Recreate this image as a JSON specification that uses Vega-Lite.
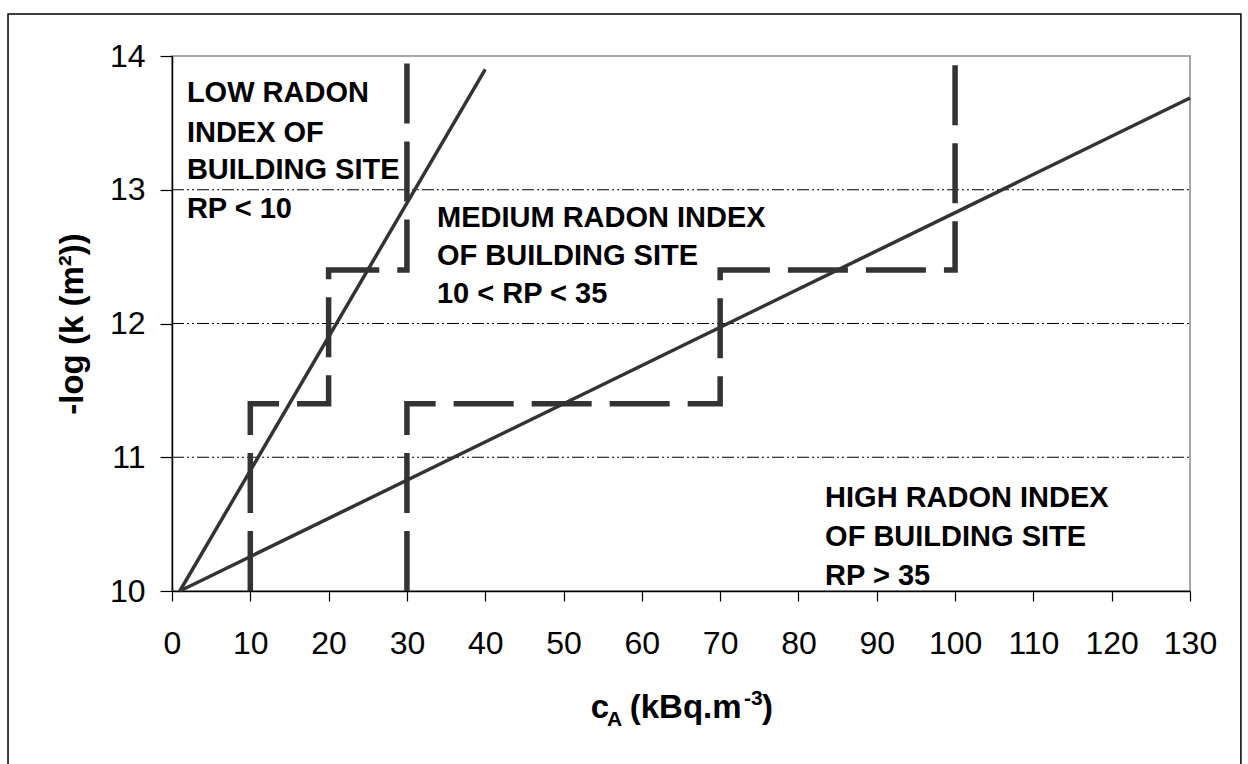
{
  "$schema": "https://vega.github.io/schema/vega-lite/v6.json",
  "width": 1018,
  "height": 535,
  "autosize": {"type": "none"},
  "padding": {"left": 172, "top": 56, "right": 58, "bottom": 173},
  "background": "white",
  "config": {
    "view": {"stroke": "#8a8a8a", "strokeWidth": 1.5},
    "font": "Liberation Sans",
    "axis": {
      "grid": false, "domainColor": "black", "domainWidth": 1.5,
      "tickColor": "black", "tickWidth": 1.2,
      "labelFontSize": 32, "labelColor": "black", "labelFont": "Liberation Sans",
      "labelFlush": false, "labelOverlap": false,
      "titleFontSize": 33, "titleFont": "Liberation Sans", "titleFontWeight": "bold", "titleColor": "black"
    },
    "axisX": {"tickSize": 10, "labelPadding": 27},
    "axisY": {"tickSize": 12, "labelPadding": 15, "titlePadding": 20}
  },
  "datasets": {
    "lines": [
      {"series": "steep", "i": 0, "x": 1, "y": 10},
      {"series": "steep", "i": 1, "x": 40, "y": 13.9},
      {"series": "shallow", "i": 0, "x": 1, "y": 10},
      {"series": "shallow", "i": 1, "x": 130, "y": 13.686}
    ],
    "steps": [
      {"path": "a", "i": 0, "x": 10, "y": 10},
      {"path": "a", "i": 1, "x": 10, "y": 11.4},
      {"path": "a", "i": 2, "x": 20, "y": 11.4},
      {"path": "a", "i": 3, "x": 20, "y": 12.4},
      {"path": "a", "i": 4, "x": 30, "y": 12.4},
      {"path": "a", "i": 5, "x": 30, "y": 14},
      {"path": "b", "i": 0, "x": 30, "y": 10},
      {"path": "b", "i": 1, "x": 30, "y": 11.4},
      {"path": "b", "i": 2, "x": 70, "y": 11.4},
      {"path": "b", "i": 3, "x": 70, "y": 12.4},
      {"path": "b", "i": 4, "x": 100, "y": 12.4},
      {"path": "b", "i": 5, "x": 100, "y": 14}
    ],
    "grid": [{"y": 11}, {"y": 12}, {"y": 13}],
    "notes": [
      {"text": "LOW RADON", "x": 1.9, "y": 13.658},
      {"text": "INDEX OF", "x": 1.9, "y": 13.359},
      {"text": "BUILDING SITE", "x": 1.9, "y": 13.08},
      {"text": "RP < 10", "x": 1.9, "y": 12.79},
      {"text": "MEDIUM RADON INDEX", "x": 33.84, "y": 12.72},
      {"text": "OF BUILDING SITE", "x": 33.84, "y": 12.44},
      {"text": "10 < RP < 35", "x": 33.84, "y": 12.15},
      {"text": "HIGH RADON INDEX", "x": 83.4, "y": 10.63},
      {"text": "OF BUILDING SITE", "x": 83.4, "y": 10.34},
      {"text": "RP > 35", "x": 83.4, "y": 10.045}
    ]
  },
  "layer": [
    {
      "data": {"values": [{}]},
      "mark": {"type": "rect", "fill": null, "fillOpacity": 0, "stroke": "black", "strokeWidth": 1.5, "clip": false},
      "encoding": {
        "x": {"datum": -20.94, "type": "quantitative", "scale": {"domain": [0, 130], "nice": false, "zero": false}, "axis": {"title": null, "values": [0,10,20,30,40,50,60,70,80,90,100,110,120,130]}},
        "x2": {"datum": 136.5},
        "y": {"datum": 14.314, "type": "quantitative", "scale": {"domain": [10, 14], "nice": false, "zero": false}, "axis": {"title": "-log (k (m²))", "values": [10, 11, 12, 13, 14]}},
        "y2": {"datum": 8.6}
      }
    },
    {
      "data": {"name": "grid"},
      "mark": {"type": "rule", "color": "black", "strokeWidth": 1, "strokeDash": [12, 3, 2, 3, 2, 3]},
      "encoding": {
        "x": {"datum": 0, "type": "quantitative", "scale": {"domain": [0, 130], "nice": false, "zero": false}, "axis": {"title": null, "values": [0,10,20,30,40,50,60,70,80,90,100,110,120,130]}},
        "x2": {"datum": 130},
        "y": {"field": "y", "type": "quantitative", "scale": {"domain": [10, 14], "nice": false, "zero": false}, "axis": {"title": "-log (k (m²))", "values": [10, 11, 12, 13, 14]}}
      }
    },
    {
      "data": {"name": "steps"},
      "mark": {"type": "line", "color": "#333333", "strokeWidth": 5.5, "strokeDash": [60, 18], "strokeCap": "butt", "strokeJoin": "miter"},
      "encoding": {
        "x": {"field": "x", "type": "quantitative", "scale": {"domain": [0, 130], "nice": false, "zero": false}, "axis": {"title": null, "values": [0,10,20,30,40,50,60,70,80,90,100,110,120,130]}},
        "y": {"field": "y", "type": "quantitative", "scale": {"domain": [10, 14], "nice": false, "zero": false}, "axis": {"title": "-log (k (m²))", "values": [10, 11, 12, 13, 14]}},
        "detail": {"field": "path"},
        "order": {"field": "i"}
      }
    },
    {
      "data": {"name": "lines"},
      "mark": {"type": "line", "color": "#333333", "strokeWidth": 3.5},
      "encoding": {
        "x": {"field": "x", "type": "quantitative", "scale": {"domain": [0, 130], "nice": false, "zero": false}, "axis": {"title": null, "values": [0,10,20,30,40,50,60,70,80,90,100,110,120,130]}},
        "y": {"field": "y", "type": "quantitative", "scale": {"domain": [10, 14], "nice": false, "zero": false}, "axis": {"title": "-log (k (m²))", "values": [10, 11, 12, 13, 14]}},
        "detail": {"field": "series"},
        "order": {"field": "i"}
      }
    },
    {
      "data": {"name": "notes"},
      "mark": {"type": "text", "align": "left", "baseline": "alphabetic", "fontSize": 29, "fontWeight": "bold", "font": "Liberation Sans", "color": "black"},
      "encoding": {
        "x": {"field": "x", "type": "quantitative", "scale": {"domain": [0, 130], "nice": false, "zero": false}, "axis": {"title": null, "values": [0,10,20,30,40,50,60,70,80,90,100,110,120,130]}},
        "y": {"field": "y", "type": "quantitative", "scale": {"domain": [10, 14], "nice": false, "zero": false}, "axis": {"title": "-log (k (m²))", "values": [10, 11, 12, 13, 14]}},
        "text": {"field": "text"}
      }
    },
    {
      "data": {"values": [{}]},
      "mark": {"type": "text", "text": "c", "align": "left", "baseline": "alphabetic", "fontSize": 33, "fontWeight": "bold", "font": "Liberation Sans", "color": "black", "clip": false},
      "encoding": {
        "x": {"datum": 53.47, "type": "quantitative", "scale": {"domain": [0, 130], "nice": false, "zero": false}, "axis": {"title": null, "values": [0,10,20,30,40,50,60,70,80,90,100,110,120,130]}},
        "y": {"datum": 9.0505, "type": "quantitative", "scale": {"domain": [10, 14], "nice": false, "zero": false}, "axis": {"title": "-log (k (m²))", "values": [10, 11, 12, 13, 14]}}
      }
    },
    {
      "data": {"values": [{}]},
      "mark": {"type": "text", "text": "A", "align": "left", "baseline": "alphabetic", "fontSize": 21, "fontWeight": "bold", "font": "Liberation Sans", "color": "black", "clip": false},
      "encoding": {
        "x": {"datum": 55.55, "type": "quantitative", "scale": {"domain": [0, 130], "nice": false, "zero": false}, "axis": {"title": null, "values": [0,10,20,30,40,50,60,70,80,90,100,110,120,130]}},
        "y": {"datum": 8.9907, "type": "quantitative", "scale": {"domain": [10, 14], "nice": false, "zero": false}, "axis": {"title": "-log (k (m²))", "values": [10, 11, 12, 13, 14]}}
      }
    },
    {
      "data": {"values": [{}]},
      "mark": {"type": "text", "text": "(kBq.m", "align": "left", "baseline": "alphabetic", "fontSize": 33, "fontWeight": "bold", "font": "Liberation Sans", "color": "black", "clip": false},
      "encoding": {
        "x": {"datum": 58.45, "type": "quantitative", "scale": {"domain": [0, 130], "nice": false, "zero": false}, "axis": {"title": null, "values": [0,10,20,30,40,50,60,70,80,90,100,110,120,130]}},
        "y": {"datum": 9.0505, "type": "quantitative", "scale": {"domain": [10, 14], "nice": false, "zero": false}, "axis": {"title": "-log (k (m²))", "values": [10, 11, 12, 13, 14]}}
      }
    },
    {
      "data": {"values": [{}]},
      "mark": {"type": "text", "text": "-3", "align": "left", "baseline": "alphabetic", "fontSize": 21, "fontWeight": "bold", "font": "Liberation Sans", "color": "black", "clip": false},
      "encoding": {
        "x": {"datum": 73.04, "type": "quantitative", "scale": {"domain": [0, 130], "nice": false, "zero": false}, "axis": {"title": null, "values": [0,10,20,30,40,50,60,70,80,90,100,110,120,130]}},
        "y": {"datum": 9.1477, "type": "quantitative", "scale": {"domain": [10, 14], "nice": false, "zero": false}, "axis": {"title": "-log (k (m²))", "values": [10, 11, 12, 13, 14]}}
      }
    },
    {
      "data": {"values": [{}]},
      "mark": {"type": "text", "text": ")", "align": "left", "baseline": "alphabetic", "fontSize": 33, "fontWeight": "bold", "font": "Liberation Sans", "color": "black", "clip": false},
      "encoding": {
        "x": {"datum": 75.34, "type": "quantitative", "scale": {"domain": [0, 130], "nice": false, "zero": false}, "axis": {"title": null, "values": [0,10,20,30,40,50,60,70,80,90,100,110,120,130]}},
        "y": {"datum": 9.0505, "type": "quantitative", "scale": {"domain": [10, 14], "nice": false, "zero": false}, "axis": {"title": "-log (k (m²))", "values": [10, 11, 12, 13, 14]}}
      }
    }
  ]
}
